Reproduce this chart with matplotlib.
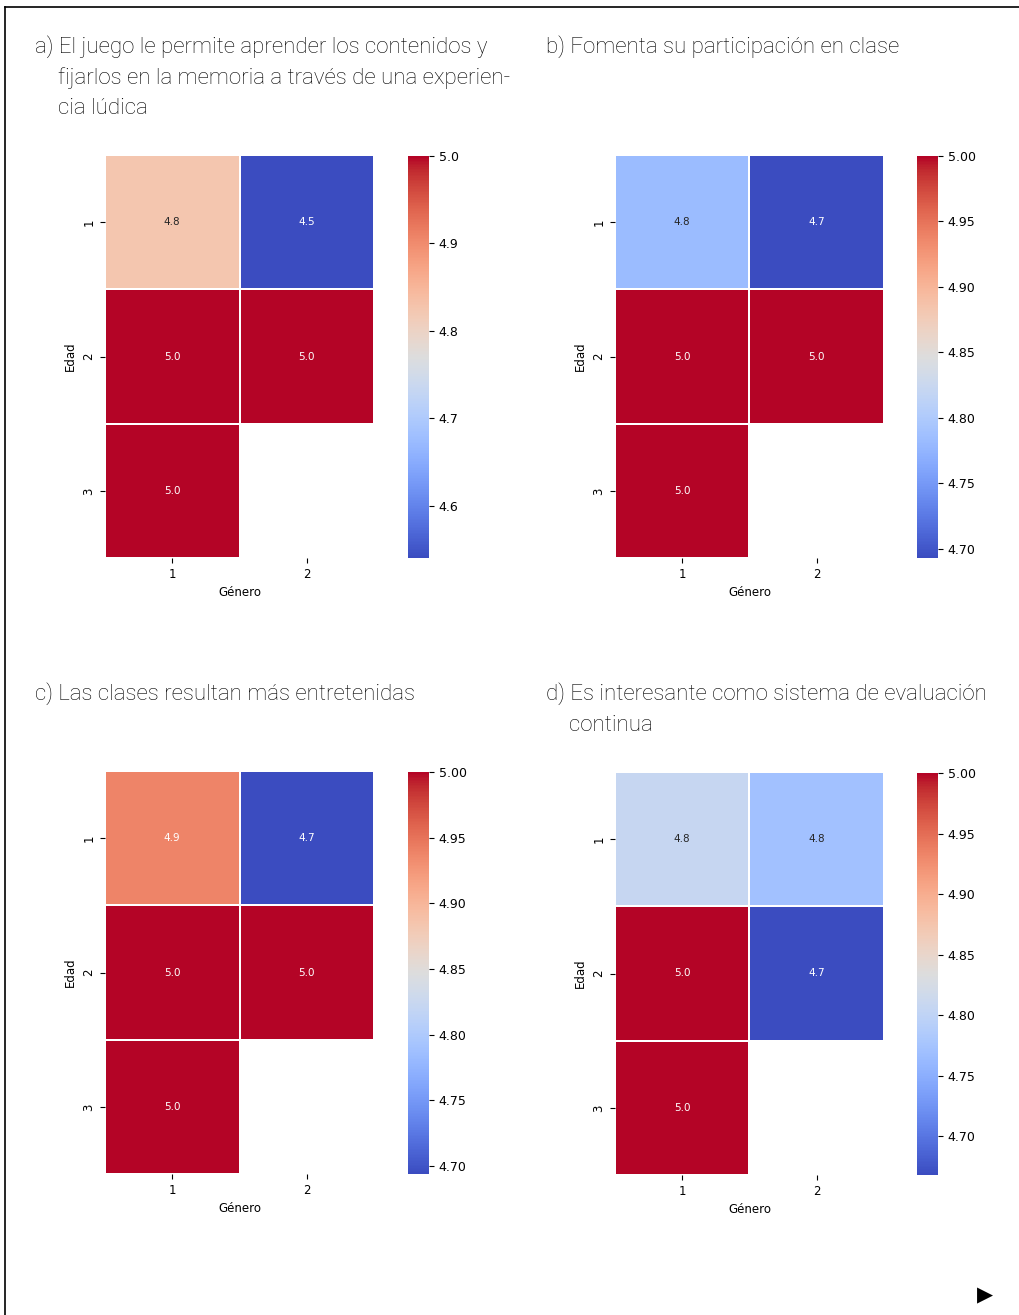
import numpy as np
import matplotlib
matplotlib.use('Agg')
from matplotlib import pyplot as plt
from matplotlib.lines import Line2D
import seaborn as sns

# rows: Edad 1..3, columns: Género 1..2 (NaN = no respondents)
edades = ['1', '2', '3']
generos = ['1', '2']

valores_a = [[4.825, 4.54], [5.0, 5.0], [5.0, np.nan]]
valores_b = [[4.782, 4.693], [5.0, 5.0], [5.0, np.nan]]
valores_c = [[4.939, 4.694], [5.0, 5.0], [5.0, np.nan]]
valores_d = [[4.807, 4.771], [5.0, 4.668], [5.0, np.nan]]

titulo_a = ['a) El juego le permite aprender los contenidos y',
            'fijarlos en la memoria a través de una experien-',
            'cia lúdica']
titulo_b = ['b) Fomenta su participación en clase']
titulo_c = ['c) Las clases resultan más entretenidas']
titulo_d = ['d) Es interesante como sistema de evaluación',
            'continua']

W, H = 1020, 1315
fig = plt.figure(figsize=(W / 100, H / 100), dpi=100)


def px_rect(x0, y0, x1, y1):
    """pixel box (top-left origin) -> figure fraction rect"""
    return [x0 / W, 1 - y1 / H, (x1 - x0) / W, (y1 - y0) / H]


def draw_panel(valores, hx, hy, cx, titulo, tx, ty):
    ax = fig.add_axes(px_rect(hx - 1, hy - 1, hx + 268, hy + 402))
    cax = fig.add_axes(px_rect(cx, hy, cx + 21, hy + 402))
    data = np.array(valores, dtype=float)
    sns.heatmap(data, ax=ax, cbar_ax=cax, cmap='coolwarm', annot=True, fmt='.1f',
                linewidths=1.2, linecolor='white', mask=np.isnan(data),
                xticklabels=generos, yticklabels=edades,
                annot_kws={'fontsize': 7.5})
    ax.set_xlabel('Género', fontsize=8.5)
    ax.set_ylabel('Edad', fontsize=8.5)
    ax.tick_params(labelsize=8.5)
    for lbl in ax.get_yticklabels():
        lbl.set_rotation(90)
        lbl.set_va('center')
    cax.tick_params(labelsize=9)

    for i, line in enumerate(titulo):
        x = tx if i == 0 else tx + 23
        fig.text(x / W, 1 - (ty + 31 * i) / H, line, fontsize=16, family='Roboto',
                 weight='light', va='center', ha='left', color='black')


draw_panel(valores_a, 106, 156, 408, titulo_a, 35, 47)
draw_panel(valores_b, 616, 156, 917, titulo_b, 546, 47)
draw_panel(valores_c, 106, 772, 408, titulo_c, 35, 694)
draw_panel(valores_d, 616, 773, 917, titulo_d, 546, 694)

# page frame (top and left rules)
fig.add_artist(Line2D([5 / W, 1], [1 - 7 / H, 1 - 7 / H], color='black', lw=1.2))
fig.add_artist(Line2D([5 / W, 5 / W], [0, 1 - 7 / H], color='black', lw=1.2))
fig.text(985 / W, 1 - 1295 / H, '▶', fontsize=15, ha='center', va='center', color='black')

fig.savefig('out.png', dpi=100)
